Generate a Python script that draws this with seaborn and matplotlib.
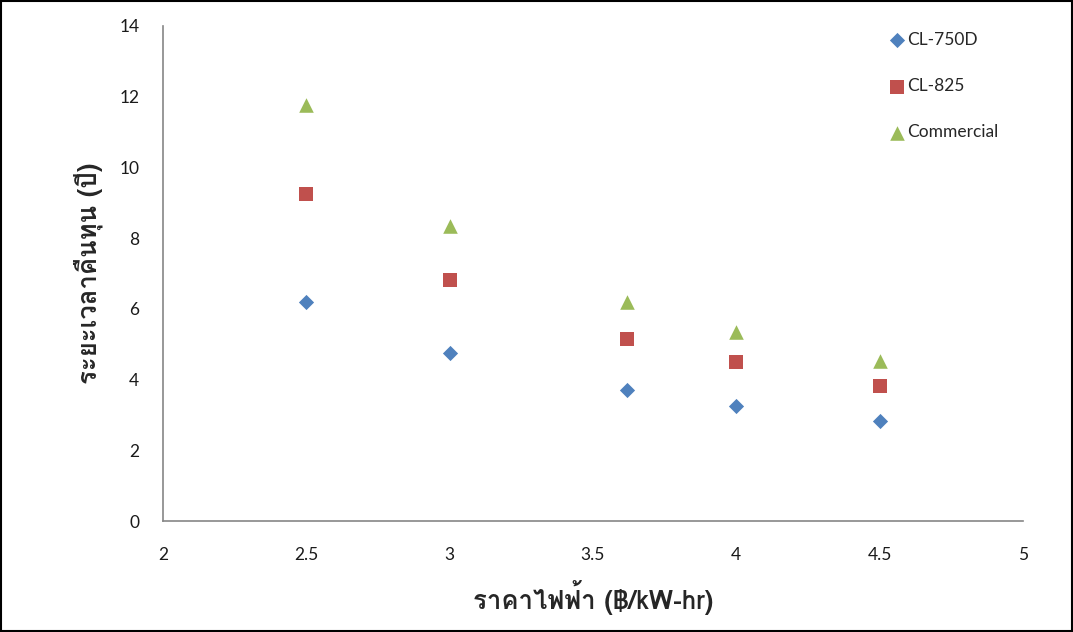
import numpy as np
import pandas as pd
import matplotlib
matplotlib.use("Agg")
import matplotlib.pyplot as plt
import seaborn as sns

# electricity price (baht / kWh)
price = [2.5, 3.0, 3.62, 4.0, 4.5]
# payback period (years)
cl750d = [6.19, 4.75, 3.70, 3.25, 2.83]
cl825 = [9.25, 6.82, 5.15, 4.50, 3.82]
commercial = [11.76, 8.34, 6.19, 5.35, 4.52]
series_names = ["CL-750D", "CL-825", "Commercial"]
xticks = [2, 2.5, 3, 3.5, 4, 4.5, 5]
yticks = [0, 2, 4, 6, 8, 10, 12, 14]

df = pd.DataFrame({
    "price": price * 3,
    "years": cl750d + cl825 + commercial,
    "model": [n for n in series_names for _ in price],
})

sns.set_style("white")
plt.rcParams["font.family"] = ["Lato", "Noto Sans Thai", "DejaVu Sans"]

fig = plt.figure(figsize=(10.73, 6.32), dpi=100)
ax = fig.add_axes([0.1519, 0.1756, 0.8015, 0.7833])

palette = {"CL-750D": "#4F81BD", "CL-825": "#C0504D", "Commercial": "#9BBB59"}
markers = {"CL-750D": "D", "CL-825": "s", "Commercial": "^"}
sizes = {"CL-750D": 60, "CL-825": 110, "Commercial": 110}
for name in series_names:
    sub = df[df["model"] == name]
    sns.scatterplot(data=sub, x="price", y="years", color=palette[name],
                    marker=markers[name], s=sizes[name], linewidth=0,
                    label=name, ax=ax)

ax.set_xlim(2, 5)
ax.set_ylim(0, 14)
ax.set_xticks(xticks)
ax.set_xticklabels([f"{t:g}" for t in xticks])
ax.set_yticks(yticks)
for s in ["top", "right"]:
    ax.spines[s].set_visible(False)
for s in ["left", "bottom"]:
    ax.spines[s].set_color("#868686")
    ax.spines[s].set_linewidth(1.2)
ax.tick_params(axis="both", direction="out", length=5, width=1.2,
               color="#868686", labelsize=12.5, pad=12, labelcolor="#1a1a1a")
ax.tick_params(axis="x", pad=14)

thai = ["Loma", "Noto Sans Thai", "DejaVu Sans"]
ax.set_xlabel("ราคาไฟฟ้า (฿/kW-hr)", fontsize=18.5, fontweight="bold",
              labelpad=12, family=thai)
ax.set_ylabel("ระยะเวลาคืนทุน (ปี)", fontsize=18.5, fontweight="bold",
              labelpad=12, family=thai)

leg = ax.legend(loc="upper left", bbox_to_anchor=(0.823, 1.02), frameon=False,
                fontsize=12.5, labelspacing=1.75, handletextpad=0.0,
                handlelength=1.2)

fig.patches.append(plt.Rectangle((0.001, 0.001), 0.998, 0.997, fill=False,
                                 edgecolor="black", linewidth=1.5,
                                 transform=fig.transFigure, figure=fig))

fig.savefig("out.png", dpi=100)
